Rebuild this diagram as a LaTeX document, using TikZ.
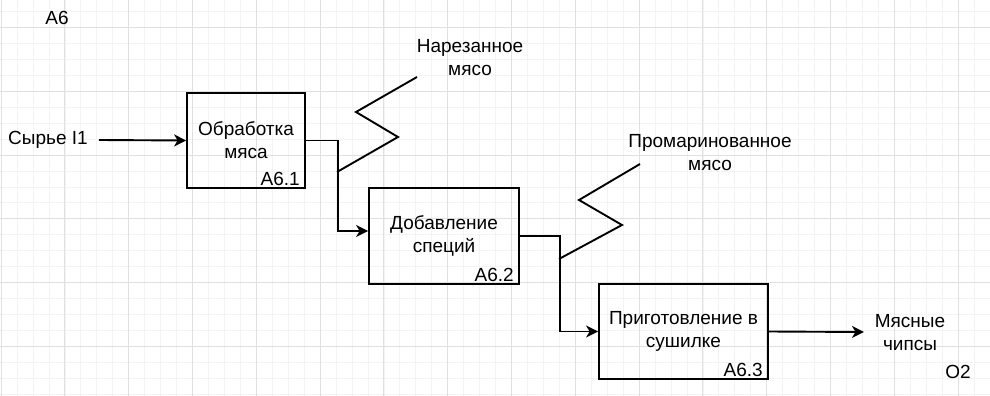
\documentclass[tikz,border=0pt]{standalone}
\usepackage{fontspec}
\setmainfont{Liberation Sans}
\usetikzlibrary{arrows.meta}
\definecolor{gridminor}{HTML}{F3F3F3}
\definecolor{gridmajor}{HTML}{E0E0E0}
\tikzset{
  blockbox/.style={draw, line width=1.8pt, align=center, inner sep=0pt},
  flow/.style={line width=1.9pt, -{Stealth[length=12pt,width=12pt,inset=3.5pt]}},
  plainline/.style={line width=1.9pt},
  lbl/.style={align=center, inner sep=0pt},
  code/.style={anchor=south east, inner sep=0pt, xshift=-6pt, yshift=3.5pt},
}
\begin{document}
\begin{tikzpicture}[x=1pt,y=-1pt,font=\fontsize{19}{23}\selectfont]
\useasboundingbox (0,0) rectangle (990,396);
\fill[white] (0,0) rectangle (990,396);
% grid
\foreach \k in {0,...,62} {
  \pgfmathsetmacro\xx{1+15.95*\k}
  \draw[gridminor, line width=0.6pt] (\xx,0) -- (\xx,396);
}
\foreach \k in {-1,...,24} {
  \pgfmathsetmacro\yy{27.3+15.95*\k}
  \draw[gridminor, line width=0.6pt] (0,\yy) -- (990,\yy);
}
\foreach \k in {0,...,15} {
  \pgfmathsetmacro\xx{1+63.8*\k}
  \draw[gridmajor, line width=0.8pt] (\xx,0) -- (\xx,396);
}
\foreach \k in {0,...,5} {
  \pgfmathsetmacro\yy{27.3+63.8*\k}
  \draw[gridmajor, line width=0.8pt] (0,\yy) -- (990,\yy);
}
% title
\node[lbl] (title) at (57,18) {A6};
% boxes
\node[blockbox, minimum width=118pt, minimum height=95pt] (b1) at (246,140.5) {Обработка\\мяса};
\node[code] (c1) at (b1.south east) {A6.1};
\node[blockbox, minimum width=150pt, minimum height=96pt] (b2) at (444,236) {Добавление\\специй};
\node[code] (c2) at (b2.south east) {A6.2};
\node[blockbox, minimum width=169pt, minimum height=95pt] (b3) at (683.5,331.5) {Приготовление в\\сушилке};
\node[code] (c3) at (b3.south east) {A6.3};
% labels
\node[lbl] (in) at (48,140) {Сырье I1};
\coordinate (inStart) at (99,140);
\node[lbl] (l1) at (470,58) {Нарезанное\\мясо};
\node[lbl] (l2) at (710,153) {Промаринованное\\мясо};
\node[lbl] (out) at (910,333) {Мясные\\чипсы};
\node[lbl] (o2) at (958,372) {O2};
\coordinate (outEnd) at (864,332);
% connectors
\draw[flow] (inStart) -- (b1.west);
\draw[flow] (b1.east) -- ++(32,0) |- ([yshift=5pt]b2.west);
\draw[flow] (b2.east) -- ++(40,0) |- (b3.west);
\draw[flow] (b3.east) -- (outEnd);
% squiggles
\coordinate (s1) at (337,172);
\coordinate (s2) at (559,259);
\draw[plainline] (s1) -- (398,137) -- (356,112) -- (417,77);
\draw[plainline] (s2) -- (622,225) -- (579,200) -- (640,164);
\end{tikzpicture}
\end{document}
